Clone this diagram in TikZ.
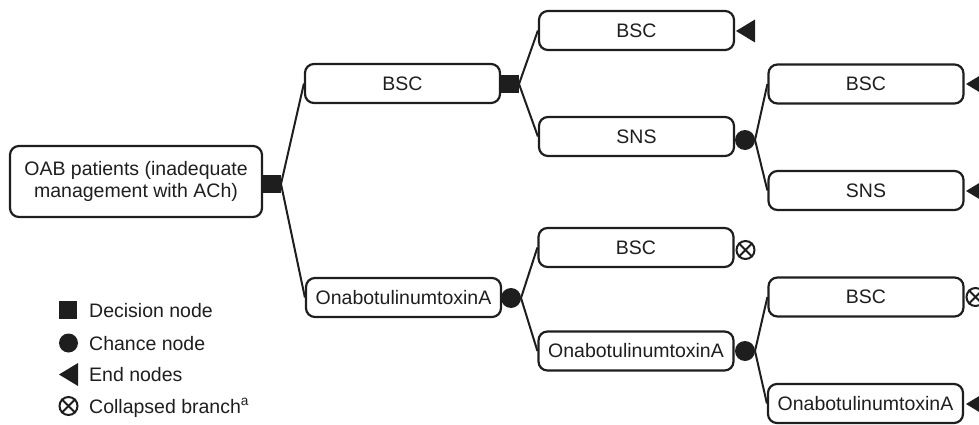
\documentclass[tikz,border=0pt]{standalone}
\usepackage{fontspec}
\setmainfont{Liberation Sans}
\definecolor{ink}{HTML}{1E1E1E}
\begin{document}
\begin{tikzpicture}[x=1pt,y=-1pt,
  box/.style={draw=ink,line width=2.2pt,rounded corners=9pt,minimum width=195pt,minimum height=39pt,inner sep=0pt,font=\fontsize{19.5}{22}\selectfont,text=ink},
  conn/.style={draw=ink,line width=2pt},
  decsq/.style={fill=ink,minimum size=18pt,inner sep=0pt,outer sep=0pt},
  chance/.style={circle,fill=ink,minimum size=20pt,inner sep=0pt,outer sep=0pt},
  collapsed/.style={circle,draw=ink,line width=2pt,minimum size=18pt,inner sep=0pt},
  legtext/.style={anchor=base west,inner sep=0pt,font=\fontsize{19.5}{22}\selectfont,text=ink}
]
\useasboundingbox (0,0) rectangle (979,425);
% boxes
\node[box,minimum width=252pt,minimum height=71pt,align=center] (root) at (136,181.5) {OAB patients (inadequate\\management with ACh)};
\node[box] (bscA) at (402.5,83.5) {BSC};
\node[box] (onaA) at (403.5,297.5) {OnabotulinumtoxinA};
\node[box] (bscB) at (636.5,30.5) {BSC};
\node[box] (snsB) at (636.5,136.5) {SNS};
\node[box] (bscC) at (636,247.5) {BSC};
\node[box] (onaC) at (636,351) {OnabotulinumtoxinA};
\node[box] (bscD) at (866,84) {BSC};
\node[box] (snsD) at (866,190.5) {SNS};
\node[box] (bscE) at (866,297) {BSC};
\node[box] (onaE) at (865.5,403.5) {OnabotulinumtoxinA};
% decision / chance nodes
\node[decsq] (d0) at (272,184) {};
\node[decsq] (d1) at (510,84) {};
\node[chance] (c1) at (511,298) {};
\node[chance] (c2) at (745,140) {};
\node[chance] (c3) at (745,351) {};
% connectors
\draw[conn] (d0.east) -- (bscA.west);
\draw[conn] (d0.east) -- (onaA.west);
\draw[conn] (d1.east) -- (bscB.west);
\draw[conn] (d1.east) -- (snsB.west);
\draw[conn] (c1.east) -- (bscC.west);
\draw[conn] (c1.east) -- (onaC.west);
\draw[conn] (c2.east) -- (bscD.west);
\draw[conn] (c2.east) -- (snsD.west);
\draw[conn] (c3.east) -- (bscE.west);
\draw[conn] (c3.east) -- (onaE.west);
% end nodes
\coordinate (t1) at (736,31);
\coordinate (t2) at (966,84);
\coordinate (t3) at (966,191);
\coordinate (t4) at (966,404);
\foreach \t in {t1,t2,t3,t4}{
  \fill[ink] (\t) -- ++(19,-11.5) -- ++(0,23) -- cycle;
}
% collapsed branches
\node[collapsed] (x1) at (745.5,250) {};
\node[collapsed] (x2) at (975.5,297) {};
\foreach \x in {x1,x2}{
  \draw[ink,line width=2pt] (\x.45) -- (\x.225) (\x.135) -- (\x.315);
}
% legend
\node[decsq] (lsq) at (68,310) {};
\node[chance,minimum size=19pt] (lci) at (68.5,343) {};
\coordinate (ltr) at (59,374.5);
\fill[ink] (ltr) -- ++(19,-11.5) -- ++(0,23) -- cycle;
\node[collapsed] (lx) at (68.5,406) {};
\draw[ink,line width=2pt] (lx.45) -- (lx.225) (lx.135) -- (lx.315);
\node[legtext] (l1) at (89,317) {Decision node};
\node[legtext] (l2) at (89,350) {Chance node};
\node[legtext] (l3) at (89,381.5) {End nodes};
\node[legtext] (l4) at (89,413) {Collapsed branch\textsuperscript{a}};
\end{tikzpicture}
\end{document}
